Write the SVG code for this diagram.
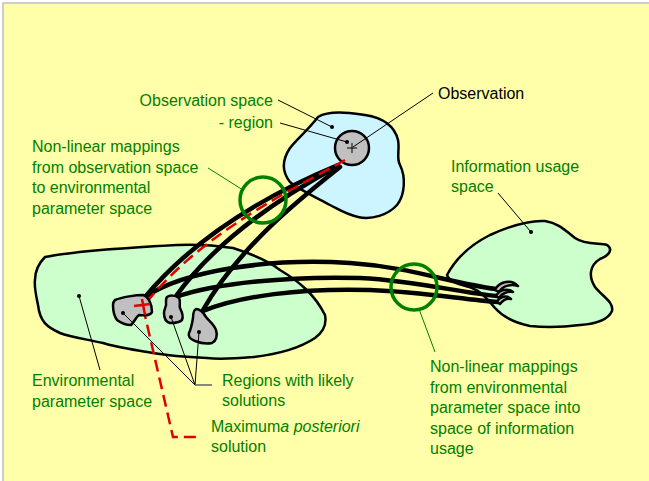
<svg xmlns="http://www.w3.org/2000/svg" width="649" height="481" viewBox="0 0 649 481">
<style>
.bg{fill:#ffffaa;stroke:#c0c0c0;stroke-width:1.5}
.blob{stroke:#000;stroke-width:2.5;stroke-linejoin:round}
.blue{fill:#ccf5ff}
.green{fill:#ccffcc}
.gray{fill:#c0c0c0;stroke:#000;stroke-width:2.5;stroke-linejoin:round}
.map{fill:none;stroke:#000;stroke-width:4.5;stroke-linecap:round}
.lead{fill:none;stroke:#000;stroke-width:1}
.glead{fill:none;stroke:#008000;stroke-width:1}
.ring{fill:none;stroke:#008000;stroke-width:3.5}
.t{font-family:"Liberation Sans",Arial,sans-serif;font-size:16px;fill:#008000}
.tb{font-family:"Liberation Sans",Arial,sans-serif;font-size:16px;fill:#000}
.red{fill:none;stroke:#e00000;stroke-width:2.5;stroke-dasharray:12,6}
.dot{fill:#000}
</style>
<rect x="3" y="3" width="700" height="500" class="bg"/>

<g id="env-space">
<path class="blob green" d="M45,257 C70,252 120,248 177,245 C200,244 220,246 233,248 C255,255 270,262 280,270 C300,282 315,295 325,315 C327,325 322,333 315,338 C300,348 280,354 253,357 C230,359 215,359 207,358 C185,357 170,356 153,353 C130,349 115,347 103,343 C85,339 70,337 60,333 C47,327 40,322 38,305 C36,295 34,287 35,280 C35,272 38,264 45,257 Z"/>
<circle class="dot" cx="79" cy="296" r="2"/>
</g>

<g id="obs-space">
<path class="blob blue" d="M318,117 C330,110 350,113 365,115 C385,118 395,128 398,140 C400,150 396,158 400,165 C406,177 405,195 397,205 C388,215 372,220 358,217 C345,214 340,210 330,205 C315,197 300,190 290,182 C282,172 282,160 290,148 C298,138 308,130 318,117 Z"/>
<circle class="dot" cx="332" cy="127" r="2"/>
</g>

<g id="info-space">
<path class="blob green" d="M447,275 C455,260 470,245 490,235 C510,226 530,220 545,221 C558,223 565,230 575,238 C585,245 600,243 607,245 C614,250 608,256 600,259 C590,265 588,276 595,287 C602,296 614,302 612,311 C608,320 595,324 580,325 C565,327 548,328 530,326 C515,323 503,317 495,308 C488,300 482,292 472,288 C462,285 450,283 447,275 Z"/>
<circle class="dot" cx="531" cy="232" r="2"/>
</g>

<g id="obs-region">
<circle cx="352" cy="148" r="17" class="gray"/>
<path d="M347,148 H357 M352,143 V153" stroke="#000" stroke-width="1"/>
<circle class="dot" cx="347" cy="142" r="2"/>
</g>

<g id="connectors">
<path class="map" d="M338,165 C290,185 205,225 145,297"/>
<path class="map" d="M338,166 C290,192 220,235 176,296"/>
<path class="map" d="M340,167 C305,195 240,245 203,310"/>
<path class="map" d="M145,297 C185,270 270,258 350,263 C410,267 450,283 496,289"/>
<path class="map" d="M176,297 C215,283 290,276 360,278 C420,281 460,293 497,296"/>
<path class="map" d="M203,311 C240,296 300,288 370,290 C425,292 465,300 498,302"/>
<path class="red" d="M345,160 C300,186 200,232 143,307 L173,437 L197,437"/>
</g>

<g id="solution-regions">
<path class="gray" d="M115,300 C122,297 136,295 143,295 C149,297 152,305 152,312 C151,315 148,316 139,315 C136,317 135,321 131,325 C126,325 121,323 117,320 C114,316 113,310 113,305 C113,302 114,301 115,300 Z"/>
<path class="gray" d="M167,297 C170,295 175,295 179,298 C181,301 179,305 180,308 C182,312 184,316 182,320 C179,323 175,323 170,323 C166,322 164,318 164,313 C164,309 167,306 166,302 C166,300 166,298 167,297 Z"/>
<path class="gray" d="M196,309 C200,309 203,312 206,317 C209,321 214,324 216,330 C218,336 216,341 212,343 C207,344 200,343 195,341 C190,339 188,336 189,333 C191,329 192,324 193,318 C193,314 194,310 196,309 Z"/>
<circle class="dot" cx="123" cy="313" r="2"/>
<circle class="dot" cx="171" cy="317" r="2"/>
<circle class="dot" cx="199" cy="332" r="2"/>
<path d="M134,306 L150,304 M142,299 L145,315" stroke="#e00000" stroke-width="2.5" fill="none"/>
</g>

<g id="info-hooks">
<path class="gray" stroke-width="1.5" d="M495,290 C499,281 512,279 518,286 C512,284 503,285 499,292 Z"/>
<path class="gray" stroke-width="1.5" d="M496,296 C500,289 508,288 513,292 C508,291 502,293 499,298 Z"/>
<path class="gray" stroke-width="1.5" d="M497,302 C500,296 507,295 511,299 C507,298 503,300 500,304 Z"/>
</g>

<g id="rings">
<circle class="ring" cx="263" cy="200" r="23"/>
<circle class="ring" cx="414" cy="287" r="23"/>
</g>

<g id="leaders">
<path class="lead" d="M278,100 L332,127"/>
<path class="lead" d="M280,123 L347,142"/>
<path class="lead" d="M353,147 L433,93"/>
<path class="lead" d="M498,193 L531,232"/>
<path class="lead" d="M79,296 L100,370"/>
<path class="lead" d="M123,313 L195,385 M171,317 L195,385 M199,332 L195,385"/>
<path d="M195,385 H212" stroke="#606060" stroke-width="1.5"/>
<path class="glead" d="M208,168 L243,190"/>
<path class="glead" d="M419,309 L435,352"/>
</g>

<g id="labels">
<text class="tb" x="438" y="99">Observation</text>
<text class="t" x="273" y="106" text-anchor="end">Observation space</text>
<text class="t" x="273" y="127.5" text-anchor="end">- region</text>
<text class="t" x="32"><tspan x="32" y="152">Non-linear mappings</tspan><tspan x="32" y="172.5">from observation space</tspan><tspan x="32" y="193">to environmental</tspan><tspan x="32" y="213.5">parameter space</tspan></text>
<text class="t" x="451"><tspan x="451" y="171.5">Information usage</tspan><tspan x="451" y="192">space</tspan></text>
<text class="t" x="32"><tspan x="32" y="386">Environmental</tspan><tspan x="32" y="406.5">parameter space</tspan></text>
<text class="t" x="222"><tspan x="222" y="385.5">Regions with likely</tspan><tspan x="222" y="406">solutions</tspan></text>
<text class="t" x="211"><tspan x="211" y="431.5">Maximum</tspan><tspan font-style="italic">a posteriori</tspan><tspan x="211" y="452">solution</tspan></text>
<text class="t" x="430"><tspan x="430" y="372">Non-linear mappings</tspan><tspan x="430" y="392.5">from environmental</tspan><tspan x="430" y="413">parameter space into</tspan><tspan x="430" y="433.5">space of information</tspan><tspan x="430" y="454">usage</tspan></text>
</g>
</svg>
